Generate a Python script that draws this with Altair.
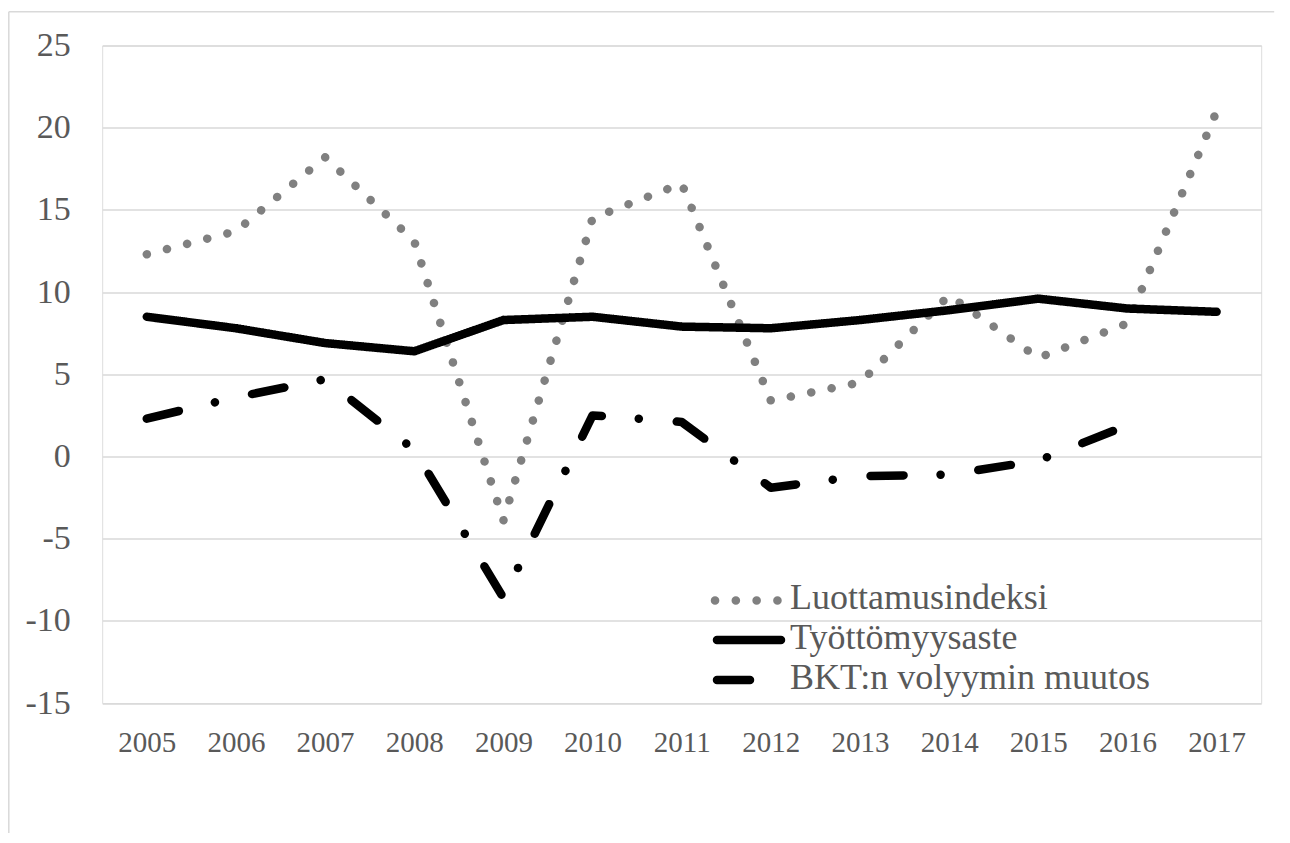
import altair as alt
import pandas as pd

years = [str(y) for y in range(2005, 2018)]
series_names = ["Luottamusindeksi", "Työttömyysaste", "BKT:n volyymin muutos"]
luottamus = [12.3, 13.7, 18.2, 13.1, -3.9, 14.5, 16.6, 3.4, 4.5, 9.8, 6.0, 8.1, 21.0]
tyottomyys = [8.5, 7.8, 6.9, 6.4, 8.3, 8.5, 7.9, 7.8, 8.3, 8.9, 9.6, 9.0, 8.8]
bkt = [2.3, 3.6, 4.7, 0.4, -8.6, 2.5, 2.1, -1.9, -1.2, -1.1, -0.25, 1.9, None]
y_ticks = [-15, -10, -5, 0, 5, 10, 15, 20, 25]

rows = []
for name, vals in zip(series_names, [luottamus, tyottomyys, bkt]):
    for yr, v in zip(years, vals):
        if v is not None:
            rows.append({"year": yr, "value": v, "series": name})
df = pd.DataFrame(rows)

FONT = "Liberation Serif"
GREY_TXT = "#595959"
colors = ["#808080", "#000000", "#000000"]
dashes = [[0.1, 20.7], [1, 0], [33, 37, 0.1, 38]]
LW = 8.5

color_scale = alt.Scale(domain=series_names, range=colors)
dash_scale = alt.Scale(domain=series_names, range=dashes)


def series_layer(name):
    return (
        alt.Chart(df)
        .transform_filter(alt.datum.series == name)
        .mark_line(strokeWidth=LW, strokeCap="round", strokeJoin="round")
        .encode(
            x=alt.X(
                "year:O",
                sort=years,
                scale=alt.Scale(padding=0.5),
                axis=alt.Axis(
                    title=None,
                    labelAngle=0,
                    domain=False,
                    ticks=False,
                    tickSize=0,
                    grid=False,
                    labelFont=FONT,
                    labelFontSize=29,
                    labelColor=GREY_TXT,
                    labelBaseline="alphabetic",
                    labelPadding=48,
                ),
            ),
            y=alt.Y(
                "value:Q",
                scale=alt.Scale(domain=[-15, 25], nice=False, zero=False),
                axis=alt.Axis(
                    title=None,
                    values=y_ticks,
                    labelExpr="'' + datum.value",
                    domain=False,
                    ticks=False,
                    tickSize=0,
                    labelFont=FONT,
                    labelFontSize=34,
                    labelColor=GREY_TXT,
                    labelPadding=32,
                    gridColor="#d9d9d9",
                    gridWidth=1.5,
                ),
            ),
            color=alt.Color("series:N", scale=color_scale, legend=None),
            strokeDash=alt.StrokeDash("series:N", scale=dash_scale, legend=None),
        )
    )


# manual legend (inside plot, lower right)
leg_sym_x0 = [612.8, 614.8, 614.8]
leg_sym_x1 = [682.8, 678.8, 678.8]
leg_y = [555.0, 594.5, 634.5]
leg_text_x = 687.8

legend_layers = []
for i, name in enumerate(series_names):
    d = pd.DataFrame({"series": [name]})
    sym = (
        alt.Chart(d)
        .mark_rule(strokeWidth=LW, strokeCap="round", strokeDash=dashes[i], color=colors[i])
        .encode(
            x=alt.value(leg_sym_x0[i]),
            x2=alt.value(leg_sym_x1[i]),
            y=alt.value(leg_y[i]),
        )
    )
    txt = (
        alt.Chart(d)
        .mark_text(align="left", baseline="middle", font=FONT, fontSize=36, color=GREY_TXT)
        .encode(
            x=alt.value(leg_text_x),
            y=alt.value(leg_y[i] - 2),
            text="series:N",
        )
    )
    legend_layers += [sym, txt]

# light chart-area border (top and left edges visible)
frame_d = pd.DataFrame({"d": [0]})
frame_top = (
    alt.Chart(frame_d)
    .mark_rule(stroke="#d9d9d9", strokeWidth=1.5)
    .encode(x=alt.value(-93.4), x2=alt.value(1172), y=alt.value(-33.8))
)
frame_left = (
    alt.Chart(frame_d)
    .mark_rule(stroke="#d9d9d9", strokeWidth=1.5)
    .encode(x=alt.value(-93.4), y=alt.value(-33.8), y2=alt.value(788))
)

chart = (
    alt.layer(frame_top, frame_left, *[series_layer(n) for n in series_names], *legend_layers)
    .properties(
        width=1159,
        height=657.6,
        autosize=alt.AutoSizeParams(type="none"),
        padding={"left": 94.2, "top": 37.5, "right": 19, "bottom": 130},
    )
    .configure_view(stroke=None)
    .configure(background="white")
)

chart.save("out.html", embed_options={"renderer": "svg", "actions": False})
